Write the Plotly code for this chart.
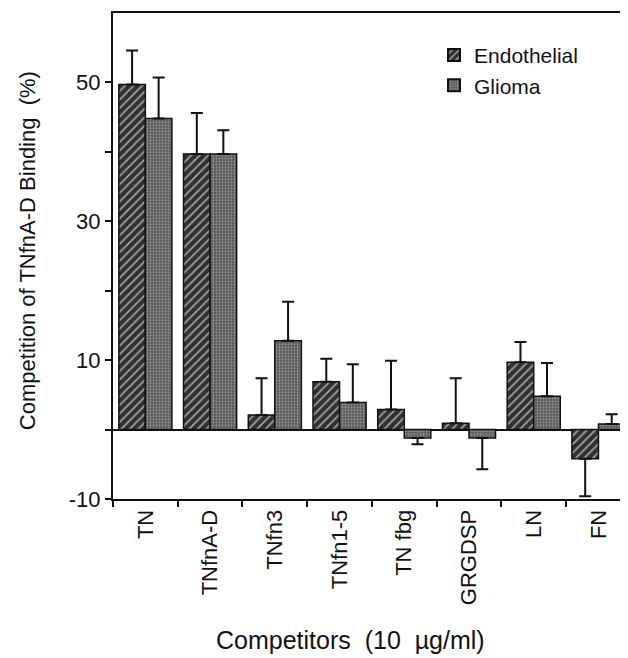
import plotly.graph_objects as go

categories = ["TN", "TNfnA-D", "TNfn3", "TNfn1-5", "TN fbg", "GRGDSP", "LN", "FN"]
endothelial = [49.7, 39.7, 2.1, 6.9, 2.9, 0.9, 9.7, -4.2]
endothelial_err_end = [54.6, 45.6, 7.4, 10.2, 9.9, 7.4, 12.6, -9.6]
glioma = [44.8, 39.7, 12.8, 3.9, -1.2, -1.2, 4.8, 0.8]
glioma_err_end = [50.7, 43.1, 18.4, 9.4, -2.1, -5.7, 9.6, 2.2]
y_tick_vals = [-10, 0, 10, 20, 30, 40, 50]
y_tick_text = ["-10", "", "10", "", "30", "", "50"]


def err_parts(vals, ends):
    plus = [max(e - v, 0) if v >= 0 else 0 for v, e in zip(vals, ends)]
    minus = [max(v - e, 0) if v < 0 else 0 for v, e in zip(vals, ends)]
    return plus, minus


FONT = "Liberation Sans, Arial, Helvetica, sans-serif"

ep, em = err_parts(endothelial, endothelial_err_end)
gp, gm = err_parts(glioma, glioma_err_end)

fig = go.Figure()
fig.add_trace(go.Bar(
    name="Endothelial", x=categories, y=endothelial,
    marker=dict(
        color="#303030",
        line=dict(color="#111111", width=1.5),
        pattern=dict(shape="/", bgcolor="#303030", fgcolor="#a0a0a0",
                     size=6, solidity=0.3, fillmode="replace"),
    ),
    error_y=dict(type="data", symmetric=False, array=ep, arrayminus=em,
                 color="#111111", thickness=2, width=6),
))
fig.add_trace(go.Bar(
    name="Glioma", x=categories, y=glioma,
    marker=dict(
        color="#555555",
        line=dict(color="#111111", width=1.5),
        pattern=dict(shape=".", bgcolor="#555555", fgcolor="#8c8c8c",
                     size=3, solidity=0.45, fillmode="replace"),
    ),
    error_y=dict(type="data", symmetric=False, array=gp, arrayminus=gm,
                 color="#111111", thickness=2, width=6),
))

fig.update_layout(
    width=628, height=658,
    margin=dict(l=105, r=11, t=3, b=167),
    paper_bgcolor="white", plot_bgcolor="white",
    barmode="group", bargap=0.18, bargroupgap=0,
    font=dict(family=FONT, size=21, color="#111111"),
    showlegend=True,
    legend=dict(x=0.627, y=0.955, xanchor="left", yanchor="top",
                bgcolor="rgba(0,0,0,0)", font=dict(size=21, color="#111111"),
                itemsizing="constant", tracegroupgap=0),
    xaxis=dict(
        range=[-0.5, 7.41], tickangle=-90, ticks="outside", tickson="boundaries",
        ticklen=6, tickwidth=1.5, tickcolor="#111111",
        showline=True, linecolor="#111111", linewidth=2, mirror=True,
        showgrid=False, zeroline=False, tickfont=dict(size=22),
    ),
    yaxis=dict(
        range=[-10, 60], tickvals=y_tick_vals, ticktext=y_tick_text,
        ticks="outside", ticklen=6, tickwidth=1.5, tickcolor="#111111",
        showline=True, linecolor="#111111", linewidth=2, mirror=True,
        showgrid=False, zeroline=True, zerolinecolor="#111111", zerolinewidth=2,
        tickfont=dict(size=22),
    ),
    annotations=[
        dict(text="Competition of TNfnA-D Binding\u00a0\u00a0(%)", textangle=-90,
             xref="paper", yref="paper", x=-0.168, y=0.512,
             xanchor="center", yanchor="middle", showarrow=False,
             font=dict(size=22, color="#111111")),
        dict(text="Competitors\u00a0\u00a0(10\u00a0\u00a0\u00b5g/ml)",
             xref="paper", yref="paper", x=0.463, y=-0.291,
             xanchor="center", yanchor="middle", showarrow=False,
             font=dict(size=25, color="#111111")),
    ],
)

fig.write_html("out.html")
